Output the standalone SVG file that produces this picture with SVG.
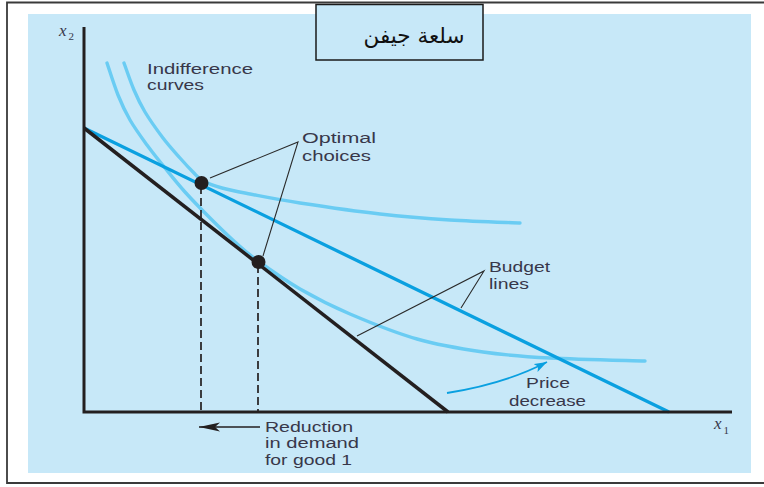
<svg xmlns="http://www.w3.org/2000/svg" width="764" height="487" viewBox="0 0 764 487">
  <style>
    .lbl { font-family: "Liberation Sans", Arial, sans-serif; font-size: 15.5px; fill: #38374a; }
    .axis { stroke: #231f20; stroke-width: 3; fill: none; }
    .indiff { stroke: #6accf3; stroke-width: 3.4; fill: none; stroke-linecap: round; }
    .lead { stroke: #2a2a2a; stroke-width: 1.1; fill: none; }
    .drop { stroke: #231f20; stroke-width: 1.7; stroke-dasharray: 8 4; fill: none; }
    .var { font-family: "Liberation Serif", "Times New Roman", serif; font-style: italic; font-size: 17px; fill: #38374a; }
    .sub { font-family: "Liberation Serif", "Times New Roman", serif; font-size: 11px; fill: #38374a; }
  </style>
  <defs>
    <marker id="headBlack" markerUnits="userSpaceOnUse" markerWidth="22" markerHeight="10" refX="21" refY="4.5" orient="auto">
      <path d="M0,0 L21,4.5 L0,9 L5,4.5 z" fill="#231f20"/>
    </marker>
    <marker id="headBlue" markerUnits="userSpaceOnUse" markerWidth="14" markerHeight="10" refX="13" refY="4.5" orient="auto">
      <path d="M0,0 L13,4.5 L0,9 L3,4.5 z" fill="#0aa0e0"/>
    </marker>
  </defs>

  <!-- page frame and panel -->
  <rect x="0" y="0" width="764" height="487" fill="#ffffff"/>
  <path d="M764,2.5 H7 V483 H764" fill="none" stroke="#3a3a3a" stroke-width="1.8"/>
  <rect x="28" y="14" width="723" height="459" fill="#c7e8f8"/>

  <!-- title box -->
  <g id="title">
    <rect x="316" y="4.5" width="167" height="55.5" fill="#c7e8f8" stroke="#1a1a1a" stroke-width="1.5"/>
    <text x="414" y="43" text-anchor="middle" direction="rtl" font-family="'DejaVu Sans', 'Noto Sans', sans-serif" font-size="21.5" fill="#111111">سلعة جيفن</text>
  </g>

  <!-- indifference curves -->
  <g id="indifference-curves">
    <path class="indiff" d="M124,63 C125.7,67.5 130.5,81.8 134,90 C137.5,98.2 140.2,104 145,112 C149.8,120 157.2,130.3 163,138 C168.8,145.7 175,152.3 180,158 C185,163.7 189.2,168.2 193,172 C196.8,175.8 198.2,178.3 203,181 C207.8,183.7 214.2,185.8 222,188 C229.8,190.2 237,191.5 250,194 C263,196.5 278.3,199.7 300,203 C321.7,206.3 355,211.2 380,214 C405,216.8 426.7,218.5 450,220 C473.3,221.5 508.3,222.5 520,223"/>
    <path class="indiff" d="M107,63 C108.8,68.3 114.2,85.5 118,95 C121.8,104.5 125.2,111.7 130,120 C134.8,128.3 141.2,137 147,145 C152.8,153 158.7,160.2 165,168 C171.3,175.8 177.5,183.7 185,192 C192.5,200.3 201.7,209.7 210,218 C218.3,226.3 227,234.8 235,242 C243,249.2 247.2,253.2 258,261 C268.8,268.8 284.7,280.2 300,289 C315.3,297.8 330.5,305.7 350,314 C369.5,322.3 394.8,332.7 417,339 C439.2,345.3 460.8,348.8 483,352 C505.2,355.2 523,356.5 550,358 C577,359.5 629.2,360.5 645,361"/>
  </g>

  <!-- budget lines -->
  <g id="budget-lines">
    <line x1="84" y1="128" x2="669" y2="412" stroke="#0aa0e0" stroke-width="3.3"/>
    <line x1="84" y1="128" x2="448" y2="412" stroke="#231f20" stroke-width="3.5"/>
  </g>

  <!-- axes -->
  <g id="axes">
    <path class="axis" d="M84,27 V412 H732"/>
    <text class="var" x="59" y="36">x</text><text class="sub" x="68.5" y="40">2</text>
    <text class="var" x="714" y="429">x</text><text class="sub" x="723.5" y="434">1</text>
  </g>

  <!-- drop lines to the x1 axis -->
  <g id="drop-lines">
    <line class="drop" x1="201" y1="186" x2="201" y2="411"/>
    <line class="drop" x1="258" y1="265" x2="258" y2="411"/>
  </g>

  <!-- optimal choices -->
  <g id="optimum-high"><circle cx="201.5" cy="183" r="7" fill="#231f20"/></g>
  <g id="optimum-low"><circle cx="258.5" cy="262" r="7" fill="#231f20"/></g>

  <!-- labels -->
  <g id="label-indifference">
    <text class="lbl" x="147" y="74" textLength="106" lengthAdjust="spacingAndGlyphs">Indifference</text>
    <text class="lbl" x="147" y="90" textLength="57" lengthAdjust="spacingAndGlyphs">curves</text>
  </g>
  <g id="label-optimal">
    <text class="lbl" x="302" y="143" textLength="74" lengthAdjust="spacingAndGlyphs">Optimal</text>
    <text class="lbl" x="302" y="161" textLength="69" lengthAdjust="spacingAndGlyphs">choices</text>
  </g>
  <g id="label-budget">
    <text class="lbl" x="489" y="272" textLength="61" lengthAdjust="spacingAndGlyphs">Budget</text>
    <text class="lbl" x="489" y="289" textLength="40" lengthAdjust="spacingAndGlyphs">lines</text>
  </g>
  <g id="label-price">
    <text class="lbl" x="526" y="388" textLength="44" lengthAdjust="spacingAndGlyphs">Price</text>
    <text class="lbl" x="509" y="406" textLength="77" lengthAdjust="spacingAndGlyphs">decrease</text>
  </g>
  <g id="label-reduction">
    <text class="lbl" x="265" y="432" textLength="88" lengthAdjust="spacingAndGlyphs">Reduction</text>
    <text class="lbl" x="265" y="448" textLength="94" lengthAdjust="spacingAndGlyphs">in demand</text>
    <text class="lbl" x="265" y="465" textLength="87" lengthAdjust="spacingAndGlyphs">for good 1</text>
  </g>

  <!-- connectors: leader lines and arrows -->
  <g id="connectors">
    <polyline class="lead" points="210,178 298,142 263,256"/>
    <polyline class="lead" points="461,308 484,271 357,336"/>
    <line x1="260" y1="427" x2="199" y2="427" stroke="#231f20" stroke-width="1.6" marker-end="url(#headBlack)"/>
    <path d="M447,393 C485,387 520,376 547,362" fill="none" stroke="#0aa0e0" stroke-width="1.8" marker-end="url(#headBlue)"/>
  </g>
</svg>
